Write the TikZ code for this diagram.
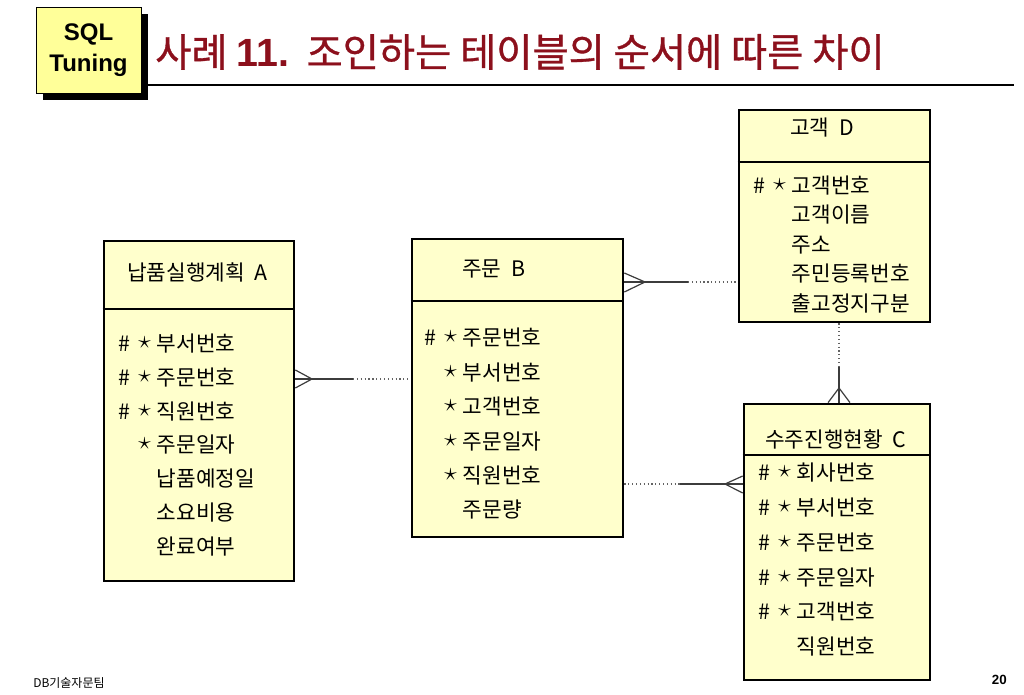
\documentclass[tikz,border=0pt]{standalone}
\usepackage{fontspec}
\setmainfont{Liberation Sans}
\newfontfamily\kr{Noto Sans CJK KR}
\newfontfamily\krtitle[FakeBold=0.8]{Noto Sans CJK KR}
\usepackage{xcolor}
\definecolor{entbg}{RGB}{255,255,204}
\definecolor{sqlbg}{RGB}{255,255,153}
\definecolor{titlered}{RGB}{140,16,28}
\definecolor{linkgray}{RGB}{60,60,60}
\usepackage{tikz}
\usetikzlibrary{positioning, fit, calc}

% key markers in the attribute rows
\newcommand{\pkmark}{\makebox[12.5pt][l]{\#}}
\newcommand{\nopk}{\makebox[12.5pt]{}}
\newcommand{\nnmark}{\makebox[16.5pt][l]{\hspace{2.5pt}\raisebox{2.2pt}{\scalebox{1.1}{$\star$}}}}
\newcommand{\nonn}{\makebox[16.5pt]{}}

\begin{document}
\begin{tikzpicture}[
  x=0.75pt, y=-0.75pt,
  entity/.style={draw, line width=2pt, fill=entbg, inner sep=0pt},
  divider/.style={line width=2pt},
  hdr/.style={font=\kr\fontsize{16}{18}\selectfont, anchor=west, inner sep=0pt,
              text height=13.3pt, text depth=2.1pt},
  attr/.style={hdr},
  rel/.style={draw=linkgray, line width=0.9pt},
  opt/.style={draw=linkgray!80, line width=0.9pt, dotted},
]
\useasboundingbox (0,0) rectangle (1024,695);

% Slide header
\fill[black] (43,14) rectangle (148,100);
\node[draw, fill=sqlbg, line width=0.6pt, inner sep=0pt, fit={(36,7) (141,93)}] (sql) {};
\node[font=\bfseries\fontsize{18}{23}\selectfont, align=center] (sqltxt) at (sql.center) {SQL\\Tuning};
\node[font=\krtitle\fontsize{29.5}{32}\selectfont, text=titlered, anchor=west, inner sep=0pt] (title) at (155,52)
  {사례 {\normalfont\bfseries 11.}\ \ 조인하는 테이블의 순서에 따른 차이};
\draw[line width=2pt] (148,85) -- (1014,85);

% Entity A
\node[entity, fit={(104,241) (294,581)}] (eA) {};
\draw[divider] (eA.west |- 0,309) -- (eA.east |- 0,309);
\node[hdr] (hA) at (127,273) {납품실행계획\ \ A};
\node[attr] (a1) at (118,344) {\pkmark\nnmark 부서번호};
\node[attr] (a2) at (118,378) {\pkmark\nnmark 주문번호};
\node[attr] (a3) at (118,412) {\pkmark\nnmark 직원번호};
\node[attr] (a4) at (118,445) {\nopk\nnmark 주문일자};
\node[attr] (a5) at (118,479) {\nopk\nonn 납품예정일};
\node[attr] (a6) at (118,513) {\nopk\nonn 소요비용};
\node[attr] (a7) at (118,547) {\nopk\nonn 완료여부};

% Entity B
\node[entity, fit={(412,239) (623,537)}] (eB) {};
\draw[divider] (eB.west |- 0,301) -- (eB.east |- 0,301);
\node[hdr] (hB) at (462,269) {주문\ \ B};
\node[attr] (b1) at (424,338) {\pkmark\nnmark 주문번호};
\node[attr] (b2) at (424,373) {\nopk\nnmark 부서번호};
\node[attr] (b3) at (424,407) {\nopk\nnmark 고객번호};
\node[attr] (b4) at (424,442) {\nopk\nnmark 주문일자};
\node[attr] (b5) at (424,476) {\nopk\nnmark 직원번호};
\node[attr] (b6) at (424,510) {\nopk\nonn 주문량};

% Entity D
\node[entity, fit={(739,110) (930,322)}] (eD) {};
\draw[divider] (eD.west |- 0,162) -- (eD.east |- 0,162);
\node[hdr] (hD) at (790,128) {고객\ \ D};
\node[attr] (d1) at (753,186) {\pkmark\nnmark 고객번호};
\node[attr] (d2) at (753,215) {\nopk\nonn 고객이름};
\node[attr] (d3) at (753,245) {\nopk\nonn 주소};
\node[attr] (d4) at (753,274) {\nopk\nonn 주민등록번호};
\node[attr] (d5) at (753,304) {\nopk\nonn 출고정지구분};

% Entity C
\node[entity, fit={(744,404) (930,680)}] (eC) {};
\draw[divider] (eC.west |- 0,455) -- (eC.east |- 0,455);
\node[hdr] (hC) at (765,440) {수주진행현황\ \ C};
\node[attr] (c1) at (758,473) {\pkmark\nnmark 회사번호};
\node[attr] (c2) at (758,508) {\pkmark\nnmark 부서번호};
\node[attr] (c3) at (758,543) {\pkmark\nnmark 주문번호};
\node[attr] (c4) at (758,578) {\pkmark\nnmark 주문일자};
\node[attr] (c5) at (758,612) {\pkmark\nnmark 고객번호};
\node[attr] (c6) at (758,647) {\nopk\nonn 직원번호};

% Relationships (crow's foot on the many side)
\coordinate (mAB) at (353,379);
\draw[rel] (eA.east |- 0,370) -- (312,379) -- (eA.east |- 0,388);
\draw[rel] (eA.east |- 0,379) -- (mAB);
\draw[opt] (mAB) -- (eB.west |- mAB);

\coordinate (mBD) at (688,282);
\draw[rel] (eB.east |- 0,273) -- (645,282) -- (eB.east |- 0,292);
\draw[rel] (eB.east |- 0,282) -- (mBD);
\draw[opt] (mBD) -- (eD.west |- mBD);

\coordinate (mDC) at (839,367);
\draw[opt] (eD.south -| mDC) -- (mDC);
\draw[rel] (mDC) -- (eC.north -| mDC);
\draw[rel] (eC.north -| 828,0) -- (839,388) -- (eC.north -| 850,0);

\coordinate (mBC) at (680,484);
\draw[opt] (eB.east |- mBC) -- (mBC);
\draw[rel] (mBC) -- (eC.west |- mBC);
\draw[rel] (eC.west |- 0,476) -- (725,484) -- (eC.west |- 0,493);

% Footer
\node[font=\kr\fontsize{9}{10}\selectfont, anchor=west, inner sep=0pt] (team) at (33,683) {DB기술자문팀};
\node[font=\bfseries\fontsize{10}{11}\selectfont, anchor=east, inner sep=0pt] (page) at (1007,680) {20};
\end{tikzpicture}
\end{document}
